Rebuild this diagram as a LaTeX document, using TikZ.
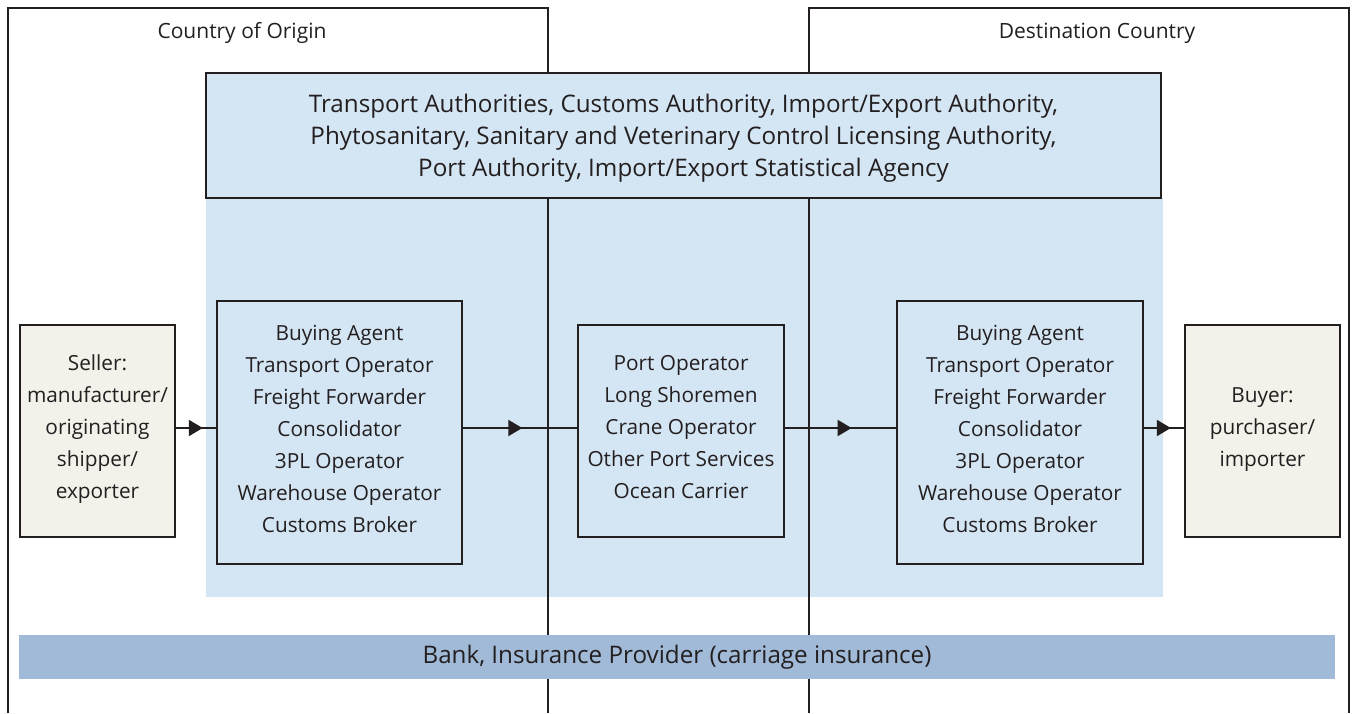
\documentclass[tikz,border=0pt]{standalone}
\usepackage{fontspec}
\setmainfont{Open Sans}
\usetikzlibrary{arrows.meta,decorations.markings}
\definecolor{ink}{HTML}{231F20}
\definecolor{paleblue}{HTML}{D4E5F3}
\definecolor{bankblue}{HTML}{A0BAD8}
\definecolor{beige}{HTML}{F3F1EA}
\tikzset{
  box/.style={draw=ink, line width=1pt, inner sep=0pt, align=center, text=ink,
    font=\fontsize{10.4}{16}\selectfont},
  bigtext/.style={font=\fontsize{12.1}{16}\selectfont},
  party/.style={box, fill=beige},
  actor/.style={box, fill=paleblue},
  flow/.style={draw=ink, line width=1pt, postaction={decorate},
    decoration={markings, mark=at position #1 with {\arrow{Triangle[length=7pt,width=8pt]}}}},
  country/.style={draw=ink, line width=1pt},
  label/.style={text=ink, font=\fontsize{10.5}{16}\selectfont, inner sep=0pt}
}
\begin{document}
\begin{tikzpicture}[x=0.5pt,y=-0.5pt]
\useasboundingbox (0,0) rectangle (1352,713);
% light blue background region
\fill[paleblue] (206,198) rectangle (1163,597);
% country frames
\draw[country] (8,713) -- (8,8) -- (548,8) -- (548,713);
\draw[country] (809,713) -- (809,8) -- (1349,8) -- (1349,713);
\node[label] (origin) at (242,33) {Country of Origin};
\node[label] (dest) at (1097,33) {Destination Country};
% authority box
\node[actor, bigtext, minimum width=477.5pt, minimum height=62.5pt] (auth) at (683.5,135.5)
  {\\[-4pt]Transport Authorities, Customs Authority, Import/Export Authority,\\
   Phytosanitary, Sanitary and Veterinary Control Licensing Authority,\\
   Port Authority, Import/Export Statistical Agency};
% parties
\node[party, minimum width=77.5pt, minimum height=106pt] (seller) at (97.5,431)
  {Seller:\\manufacturer/\\originating\\shipper/\\exporter\\[-12pt]};
\node[party, minimum width=77.5pt, minimum height=106pt] (buyer) at (1262.5,431)
  {Buyer:\\purchaser/\\importer\\[-12pt]};
% actor boxes
\node[actor, minimum width=122.5pt, minimum height=131.5pt] (lm) at (339.5,432.5)
  {Buying Agent\\Transport Operator\\Freight Forwarder\\Consolidator\\3PL Operator\\Warehouse Operator\\Customs Broker\\[-12pt]};
\node[actor, minimum width=103pt, minimum height=106pt] (port) at (681,431)
  {Port Operator\\Long Shoremen\\Crane Operator\\Other Port Services\\Ocean Carrier\\[-12pt]};
\node[actor, minimum width=123pt, minimum height=131.5pt] (rm) at (1020,432.5)
  {Buying Agent\\Transport Operator\\Freight Forwarder\\Consolidator\\3PL Operator\\Warehouse Operator\\Customs Broker\\[-12pt]};
% connectors
\coordinate (lvl) at (0,428);
\draw[flow=0.67] (seller.east |- lvl) -- (lm.west |- lvl);
\draw[flow=0.52] (lm.east |- lvl) -- (port.west |- lvl);
\draw[flow=0.6] (port.east |- lvl) -- (rm.west |- lvl);
\draw[flow=0.67] (rm.east |- lvl) -- (buyer.west |- lvl);
% bank bar
\node[box, bigtext, draw=none, fill=bankblue, minimum width=658pt, minimum height=22pt] (bank) at (677,657)
  {Bank, Insurance Provider (carriage insurance)};
\end{tikzpicture}
\end{document}
